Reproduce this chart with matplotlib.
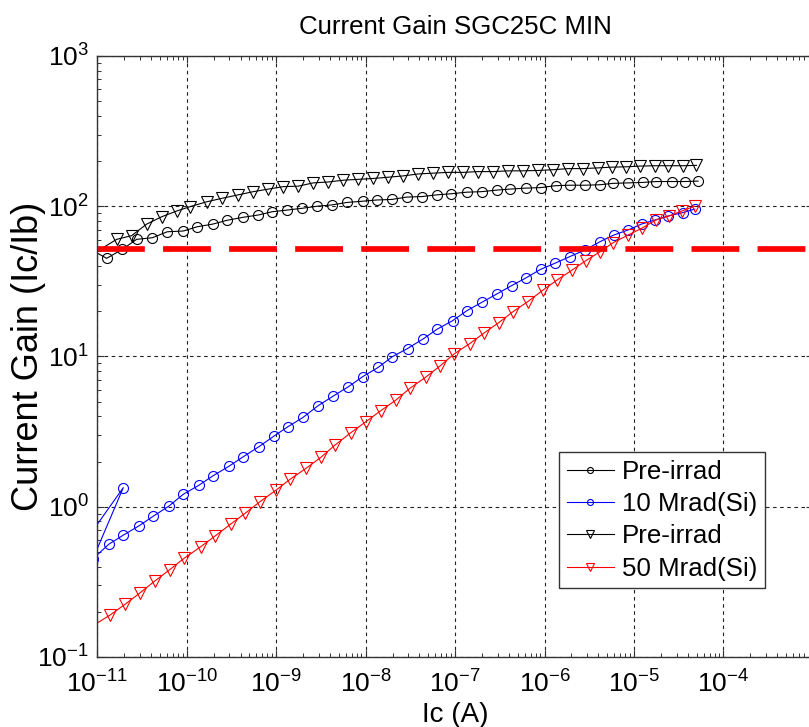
import matplotlib
matplotlib.use("Agg")
import matplotlib.pyplot as plt
import numpy as np

plt.rcParams["font.family"] = ["Liberation Sans", "DejaVu Sans"]
plt.rcParams["mathtext.default"] = "regular"

# log10(Ic [A]) and current gain (Ic/Ib)
pre1_log_ic = [-11.08, -10.894, -10.720, -10.559, -10.384, -10.217, -10.038, -9.882,
               -9.710, -9.553, -9.374, -9.200, -9.044, -8.876, -8.715, -8.541, -8.380,
               -8.206, -8.034, -7.877, -7.703, -7.542, -7.368, -7.207, -7.047, -6.871,
               -6.704, -6.536, -6.388, -6.209, -6.045, -5.877, -5.717, -5.550, -5.382,
               -5.233, -5.066, -4.905, -4.749, -4.581, -4.433, -4.284]
pre1_gain = [51.9, 45.0, 51.6, 60.2, 61.7, 67.6, 68.4, 73.0, 76.0, 80.5, 84.3, 87.4,
             91.9, 94.3, 96.8, 100, 102, 106, 108, 110, 111, 115, 116, 119, 121, 124,
             125, 128, 130, 132, 133, 137, 138, 138, 139, 142, 143, 144, 146, 146, 146,
             147]

rad10_log_ic = [-11.136, -10.708, -11.047, -10.868, -10.708, -10.533, -10.373, -10.198,
                -10.038, -9.863, -9.703, -9.527, -9.368, -9.192, -9.025, -8.871, -8.697,
                -8.536, -8.362, -8.194, -8.034, -7.859, -7.703, -7.531, -7.356, -7.200,
                -7.028, -6.872, -6.697, -6.536, -6.369, -6.209, -6.045, -5.885, -5.718,
                -5.550, -5.382, -5.226, -5.066, -4.916, -4.768, -4.619, -4.458, -4.321]
rad10_gain = [0.585, 1.34, 0.45, 0.564, 0.647, 0.746, 0.865, 1.01, 1.21, 1.39, 1.61,
              1.86, 2.15, 2.51, 2.95, 3.40, 3.94, 4.68, 5.45, 6.28, 7.33, 8.46, 9.95,
              11.3, 13.1, 15.2, 17.3, 20.1, 23.0, 26.0, 29.6, 33.3, 38.0, 41.7, 46.2,
              51.1, 58.0, 64.3, 69.5, 76.1, 80.9, 86.1, 90.6, 95.7]

pre2_log_ic = [-11.08, -10.782, -10.615, -10.447, -10.279, -10.112, -9.963, -9.777,
               -9.602, -9.424, -9.256, -9.088, -8.921, -8.753, -8.585, -8.418, -8.250,
               -8.083, -7.915, -7.748, -7.587, -7.412, -7.245, -7.077, -6.909, -6.742,
               -6.574, -6.407, -6.239, -6.072, -5.904, -5.736, -5.569, -5.401, -5.251,
               -5.084, -4.935, -4.767, -4.619, -4.451, -4.302]
pre2_gain = [46.9, 60.2, 63.7, 76.0, 85.1, 92.9, 99.3, 107, 113, 119, 125, 130, 135,
             136, 143, 145, 149, 151, 153, 156, 159, 164, 166, 168, 168, 170, 170, 172,
             172, 173, 175, 178, 178, 180, 182, 183, 185, 186, 186, 186, 187]

rad50_log_ic = [-11.08, -10.857, -10.689, -10.522, -10.354, -10.187, -10.030, -9.844,
                -9.684, -9.508, -9.349, -9.181, -9.001, -8.846, -8.667, -8.500, -8.343,
                -8.168, -8.000, -7.832, -7.661, -7.505, -7.330, -7.170, -7.010, -6.835,
                -6.678, -6.511, -6.351, -6.190, -6.016, -5.859, -5.692, -5.539, -5.379,
                -5.233, -5.066, -4.916, -4.757, -4.608, -4.466, -4.321]
rad50_gain = [0.157, 0.190, 0.224, 0.267, 0.321, 0.382, 0.453, 0.541, 0.637, 0.766,
              0.902, 1.08, 1.29, 1.52, 1.80, 2.13, 2.57, 3.10, 3.67, 4.35, 5.13, 6.14,
              7.27, 8.63, 10.4, 12.2, 14.3, 16.8, 19.9, 23.1, 27.7, 32.3, 37.6, 43.4,
              49.8, 57.2, 64.3, 71.2, 80.9, 86.1, 92.9, 100]

spec_limit = 52.0
x_decades = [1e-11, 1e-10, 1e-9, 1e-8, 1e-7, 1e-6, 1e-5, 1e-4]

fig = plt.figure(figsize=(8.09, 7.27), dpi=100)
ax = fig.add_axes([0.1201, 0.0963, 0.8848, 0.8267])

kw = dict(lw=0.8, mfc="none", mew=0.8)
ax.plot(10.0 ** np.array(pre1_log_ic), pre1_gain, "-o", color="k", ms=7.2,
        label="Pre-irrad", **kw)
ax.plot(10.0 ** np.array(rad10_log_ic), rad10_gain, "-o", color="#0000ff", ms=7.2,
        label="10 Mrad(Si)", **kw)
ax.plot(10.0 ** np.array(pre2_log_ic), pre2_gain, "-v", color="k", ms=8.6,
        label="Pre-irrad", **kw)
ax.plot(10.0 ** np.array(rad50_log_ic), rad50_gain, "-v", color="#ff0000", ms=8.6,
        label="50 Mrad(Si)", **kw)
ax.axhline(spec_limit, color="#ff0000", lw=4.1, dashes=(8.4, 3.2))

ax.set_xscale("log")
ax.set_yscale("log")
ax.set_xlim(1e-11, 1e-3)
ax.set_ylim(1e-1, 1e3)
ax.set_xticks(x_decades)
ax.grid(True, which="major", color="#222222", lw=0.8, ls=(0, (3.2, 3.2)))
ax.tick_params(which="both", direction="in", top=True, right=True,
               labelsize=19, color="#333333")
ax.tick_params(which="major", length=5, width=0.8, pad=6)
ax.tick_params(axis="x", which="major", pad=10)
ax.tick_params(which="minor", length=3, width=0.7)
for s in ax.spines.values():
    s.set_color("#333333")
    s.set_linewidth(1.0)

ax.set_title("Current Gain SGC25C MIN", fontsize=18.6, pad=16)
ax.set_xlabel("Ic (A)", fontsize=20, labelpad=3)
ax.set_ylabel("Current Gain (Ic/Ib)", fontsize=26)
ax.yaxis.set_label_coords(-0.072, 0.5)

leg = ax.legend(loc="upper left", bbox_to_anchor=(0.645, 0.341), borderaxespad=0,
                fontsize=18.6, handlelength=1.85, handletextpad=0.3,
                borderpad=0.3, labelspacing=0.32, markerscale=0.6,
                fancybox=False, framealpha=1, edgecolor="#333333")
leg.get_frame().set_linewidth(1.0)

fig.savefig("out.png", dpi=100)
